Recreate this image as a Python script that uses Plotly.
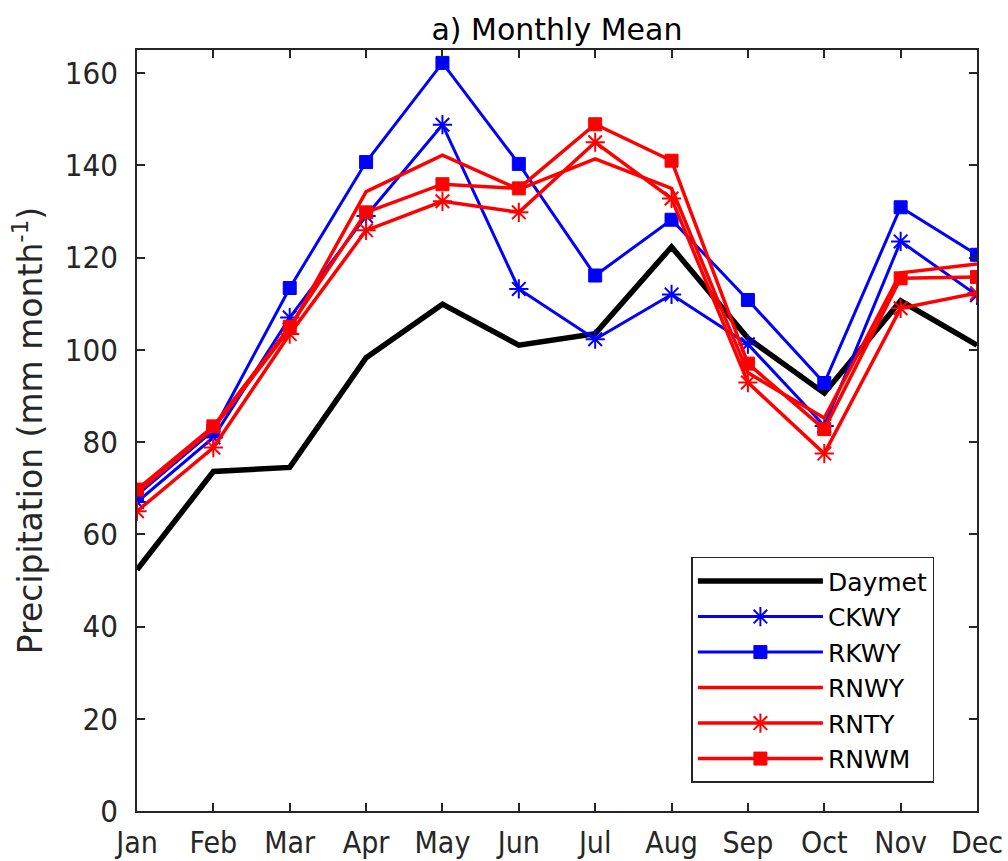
import plotly.graph_objects as go

months = ["Jan", "Feb", "Mar", "Apr", "May", "Jun", "Jul", "Aug", "Sep", "Oct", "Nov", "Dec"]
daymet = [52.3, 73.6, 74.5, 98.3, 109.9, 101.0, 103.5, 122.3, 102.5, 90.6, 110.6, 101.0]
ckwy = [67.0, 81.0, 107.0, 129.0, 148.8, 113.2, 102.3, 112.0, 101.2, 83.5, 123.5, 111.8]
rkwy = [68.5, 82.5, 113.4, 140.7, 162.2, 140.3, 116.1, 128.2, 110.8, 92.8, 130.9, 120.6]
rnwy = [69.0, 83.0, 104.5, 134.3, 142.2, 134.8, 141.4, 135.0, 95.0, 85.2, 116.7, 118.6]
rnty = [65.0, 78.8, 103.4, 125.9, 132.2, 129.8, 145.0, 132.8, 92.9, 77.5, 109.0, 112.3]
rnwm = [69.7, 83.4, 105.0, 129.8, 135.9, 135.0, 148.9, 141.0, 97.0, 82.8, 115.5, 115.8]
yticks = [0, 20, 40, 60, 80, 100, 120, 140, 160]

BLUE = "#0000FF"
RED = "#FF0000"
TXT = "#262626"

fig = go.Figure()
fig.add_trace(go.Scatter(x=months, y=daymet, name="Daymet", mode="lines",
                         line=dict(color="black", width=5.5)))
fig.add_trace(go.Scatter(x=months, y=ckwy, name="CKWY", mode="lines+markers",
                         line=dict(color=BLUE, width=3),
                         marker=dict(symbol="asterisk-open", size=16, color=BLUE,
                                     line=dict(color=BLUE, width=2))))
fig.add_trace(go.Scatter(x=months, y=rkwy, name="RKWY", mode="lines+markers",
                         line=dict(color=BLUE, width=3),
                         marker=dict(symbol="square", size=13, color=BLUE,
                                     line=dict(color=BLUE, width=1))))
fig.add_trace(go.Scatter(x=months, y=rnwy, name="RNWY", mode="lines",
                         line=dict(color=RED, width=3.5)))
fig.add_trace(go.Scatter(x=months, y=rnty, name="RNTY", mode="lines+markers",
                         line=dict(color=RED, width=3.5),
                         marker=dict(symbol="asterisk-open", size=16, color=RED,
                                     line=dict(color=RED, width=2))))
fig.add_trace(go.Scatter(x=months, y=rnwm, name="RNWM", mode="lines+markers",
                         line=dict(color=RED, width=3.5),
                         marker=dict(symbol="square", size=13, color=RED,
                                     line=dict(color=RED, width=1))))

axis_common = dict(
    showline=True, linecolor=TXT, linewidth=1.5, mirror="ticks",
    ticks="inside", ticklen=8, tickwidth=1.5, tickcolor=TXT,
    showgrid=False, zeroline=False, automargin=False,
    tickfont=dict(family="DejaVu Sans Condensed", size=31, color=TXT),
)

fig.update_layout(
    width=1008, height=861,
    margin=dict(l=137, r=31, t=50, b=50),
    paper_bgcolor="white", plot_bgcolor="white",
    title=dict(text="a) Monthly Mean", x=0.5525, xanchor="center", y=0.966, yanchor="middle",
               font=dict(family="DejaVu Sans", size=30, color="black")),
    xaxis=dict(axis_common, range=[0, 11], tickvals=months, ticktext=months,
               ticklabelstandoff=4,
               tickfont=dict(family="DejaVu Sans Condensed", size=30, color=TXT)),
    yaxis=dict(axis_common, range=[0, 165], tickvals=yticks, ticklabelstandoff=11,
               title=dict(text="Precipitation (mm month<sup>-1</sup>)", standoff=12,
                          font=dict(family="DejaVu Sans", size=33, color=TXT))),
    legend=dict(x=0.66, y=0.334, xanchor="left", yanchor="top",
                bgcolor="white", bordercolor=TXT, borderwidth=1.5,
                font=dict(family="DejaVu Sans", size=25, color="black"),
                itemwidth=125, entrywidth=112, tracegroupgap=0),
    showlegend=True,
)

fig.write_html("out.html")
